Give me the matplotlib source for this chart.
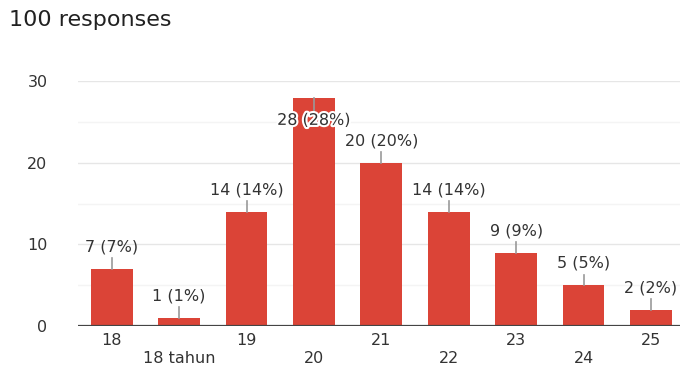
import matplotlib.pyplot as plt
import matplotlib.patheffects as pe
import numpy as np

plt.rcParams["font.family"] = ["DejaVu Sans"]

# data
categories = ["18", "18 tahun", "19", "20", "21", "22", "23", "24", "25"]
counts = [7, 1, 14, 28, 20, 14, 9, 5, 2]
total = 100
title = "100 responses"

BAR_RED = "#db4437"
TEXT = "#333333"

fig = plt.figure(figsize=(6.8, 3.67), dpi=100)
fig.text(0.013, 0.945, title, fontsize=16, color="#212121", va="center", ha="left")

ax = fig.add_axes([0.1147, 0.1117, 0.8853, 0.667])
x = np.arange(len(categories))
ax.bar(x, counts, width=0.62, color=BAR_RED, zorder=3)

ax.set_xlim(-0.5, 8.43)
ax.set_ylim(0, 30)

# grid: major every 10, minor every 5
for y in [10, 20, 30]:
    ax.axhline(y, color="#e6e6e6", lw=1, zorder=1)
for y in [5, 15, 25]:
    ax.axhline(y, color="#f4f4f4", lw=1, zorder=1)
ax.axhline(0, color="#444444", lw=1.6, zorder=4)

for side in ["top", "right", "left", "bottom"]:
    ax.spines[side].set_visible(False)

ax.set_yticks([0, 10, 20, 30])
ax.tick_params(axis="y", length=0, pad=22, labelsize=11.5, labelcolor=TEXT)

# x labels staggered in two rows
ax.set_xticks([])
for i, name in enumerate(categories):
    offset = -1.8 if i % 2 == 0 else -4.0
    ax.text(i, offset, name, ha="center", va="center", fontsize=11.5,
            color=TEXT, clip_on=False)

# value labels with leader lines
for i, c in enumerate(counts):
    label = f"{c} ({round(c / total * 100)}%)"
    if c > 26:
        ax.plot([i, i], [c, c - 1.6], color="#999999", lw=1.2, zorder=5)
        t = ax.text(i, c - 2.8, label, ha="center", va="center", fontsize=11.5,
                    color=TEXT, zorder=6)
        t.set_path_effects([pe.withStroke(linewidth=3, foreground="white")])
    else:
        ax.plot([i, i], [c, c + 1.3], color="#999999", lw=1.2, zorder=5)
        ax.text(i, c + 2.7, label, ha="center", va="center", fontsize=11.5,
                color=TEXT, zorder=6)

fig.savefig("out.png", dpi=100)
